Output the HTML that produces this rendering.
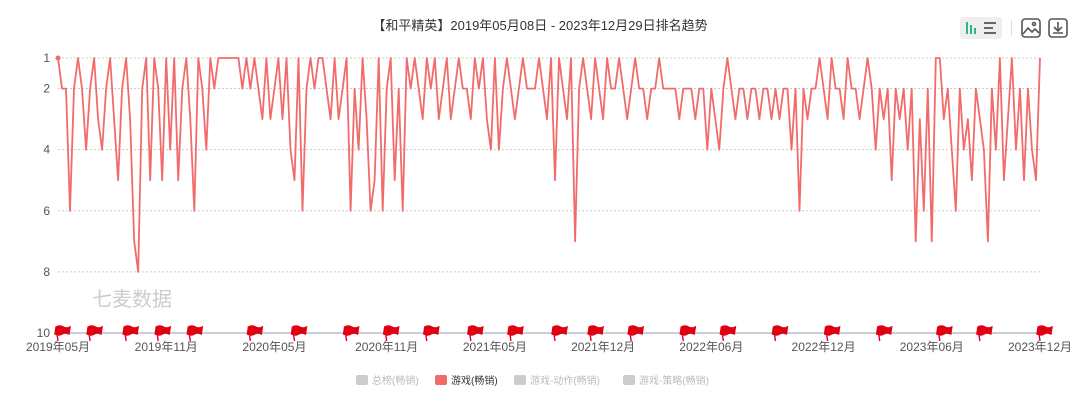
<!DOCTYPE html>
<html><head><meta charset="utf-8">
<style>
html,body{margin:0;padding:0;background:#fff;}
body{width:1080px;height:404px;overflow:hidden;font-family:"Liberation Sans","Noto Sans CJK SC",sans-serif;}
</style></head>
<body>
<svg id="chart" width="1080" height="404" xmlns="http://www.w3.org/2000/svg" style="font-family:'Liberation Sans','Noto Sans CJK SC',sans-serif">
<text x="540" y="30" text-anchor="middle" font-size="13" fill="#333">【和平精英】2019年05月08日 - 2023年12月29日排名趋势</text>
<g>
<rect x="960" y="17" width="42" height="22" rx="3" fill="#eee"/>
<rect x="966" y="22" width="2" height="12" fill="#2bb58c"/><rect x="970" y="25" width="2" height="9" fill="#2bb58c"/><rect x="974" y="28" width="2" height="6" fill="#2bb58c"/>
<rect x="984" y="22" width="12" height="2" fill="#666"/><rect x="984" y="27" width="9" height="2" fill="#666"/><rect x="984" y="32" width="12" height="2" fill="#666"/>
</g>
<rect x="1011" y="20" width="1" height="16" fill="#ddd"/>
<g fill="none" stroke="#555" stroke-width="1.6">
<rect x="1022" y="19" width="18" height="18" rx="3"/><path d="M1023 34 l5-6 4 4 3-3 4 4"/><circle cx="1034" cy="24" r="1.5"/>
</g>
<g fill="none" stroke="#555" stroke-width="1.6">
<rect x="1049" y="19" width="18" height="18" rx="3"/><path d="M1058 22 v9 M1054 27 l4 4 4-4 M1053 33 h10"/>
</g>
<g id="grid"></g>
<g id="yticks"></g>
<text x="92" y="306" font-size="20" fill="#ccc">七麦数据</text>
<line x1="58" y1="333" x2="1040" y2="333" stroke="#b8bfd0" stroke-width="1.5"/>
<path id="line" fill="none" stroke="#f26b6b" stroke-width="1.8" stroke-linejoin="round"/>
<circle id="startdot" r="2.5" fill="#f26b6b"/>
<g id="flags"></g>
<g id="xticks"></g>
<g font-size="10">
<g><rect x="356" y="375" width="12" height="10" rx="2" fill="#ccc"/><text x="372" y="384" fill="#bbb">总榜(畅销)</text></g>
<g><rect x="435" y="375" width="12" height="10" rx="2" fill="#f26b6b"/><text x="451" y="384" fill="#333">游戏(畅销)</text></g>
<g><rect x="514" y="375" width="12" height="10" rx="2" fill="#ccc"/><text x="530" y="384" fill="#bbb">游戏-动作(畅销)</text></g>
<g><rect x="623" y="375" width="12" height="10" rx="2" fill="#ccc"/><text x="639" y="384" fill="#bbb">游戏-策略(畅销)</text></g>
</g>
</svg>
<script>
const yTicks=[1,2,4,6,8,10];
const xTickLabels=["2019年05月","2019年11月","2020年05月","2020年11月","2021年05月","2021年12月","2022年06月","2022年12月","2023年06月","2023年12月"];
const xTickIdx=[0,27,54,82,109,136,163,191,218,245];
const flagIdx=[0,8,17,25,33,48,59,72,82,92,103,113,124,133,143,156,166,179,192,205,220,230,245];
const ranks=[
1,2,2,6,2,1,2,4,2,1,3,4,2,1,3,5,2,1,3,7,
8,2,1,5,1,2,5,1,4,1,5,2,1,3,6,1,2,4,1,2,
1,1,1,1,1,1,2,1,2,1,2,3,1,3,2,1,3,1,4,5,
1,6,2,1,2,1,1,2,3,1,3,2,1,6,2,4,1,3,6,5,
1,6,2,1,5,2,6,1,2,1,2,3,1,2,1,3,2,1,3,2,
1,2,2,3,1,2,1,3,4,1,4,2,1,2,3,2,1,2,2,2,
1,2,3,1,5,1,2,3,1,7,2,1,2,3,1,2,3,1,2,2,
1,2,3,2,1,2,2,3,2,2,1,2,2,2,2,3,2,2,2,3,
2,2,4,2,3,4,2,1,2,3,2,2,3,2,2,3,2,2,3,2,
3,2,2,4,2,6,2,3,2,2,1,2,3,1,2,2,3,1,2,2,
3,2,1,2,4,2,3,2,5,2,3,2,4,2,7,3,6,2,7,1,
1,3,2,4,6,2,4,3,5,2,3,4,7,2,4,1,5,3,1,4,
2,5,2,4,5,1];
const X0=58,X1=1040,Y0=58,Y1=333;
const n=ranks.length;
function xs(i){return X0+(X1-X0)*i/(n-1);}
function ys(v){return Y0+(Y1-Y0)*(v-1)/9;}
const NS="http://www.w3.org/2000/svg";
const grid=document.getElementById('grid'),yt=document.getElementById('yticks');
yTicks.forEach(v=>{
 if(v!==10){const l=document.createElementNS(NS,'line');
 l.setAttribute('x1',X0);l.setAttribute('x2',X1);l.setAttribute('y1',ys(v));l.setAttribute('y2',ys(v));
 l.setAttribute('stroke','#ccc');l.setAttribute('stroke-dasharray','2,2');
 
 
 grid.appendChild(l);}
 const t=document.createElementNS(NS,'text');
 t.setAttribute('x',50);t.setAttribute('y',ys(v)+4);t.setAttribute('text-anchor','end');t.setAttribute('font-size','12');t.setAttribute('fill','#555');
 t.textContent=v;
 
 
 yt.appendChild(t);
});
document.getElementById('line').setAttribute('d',ranks.map((v,i)=>(i?'L':'M')+xs(i).toFixed(1)+' '+ys(v).toFixed(1)).join(' '));
const sd=document.getElementById('startdot');sd.setAttribute('cx',xs(0));sd.setAttribute('cy',ys(ranks[0]));
const xt=document.getElementById('xticks');
xTickLabels.forEach((s,k)=>{
 const t=document.createElementNS(NS,'text');
 t.setAttribute('x',xs(xTickIdx[k]));t.setAttribute('y',351);t.setAttribute('text-anchor','middle');t.setAttribute('font-size','12');t.setAttribute('fill','#555');
 t.textContent=s;
 
 
 xt.appendChild(t);
});
const fl=document.getElementById('flags');
flagIdx.forEach(i=>{
 const x=xs(i)+2;
 const g=document.createElementNS(NS,'path');
 g.setAttribute('d',`M${x-2} 341 L${x-4} 327 M${x-4} 327 q4 -2 7 0 t7 0 l-1 7 q-4 -2 -7 0 t-7 0 z`);
 g.setAttribute('fill','#e00012');g.setAttribute('stroke','#e00012');g.setAttribute('stroke-width','1.4');
 
 
 fl.appendChild(g);
});
</script>
</body></html>
